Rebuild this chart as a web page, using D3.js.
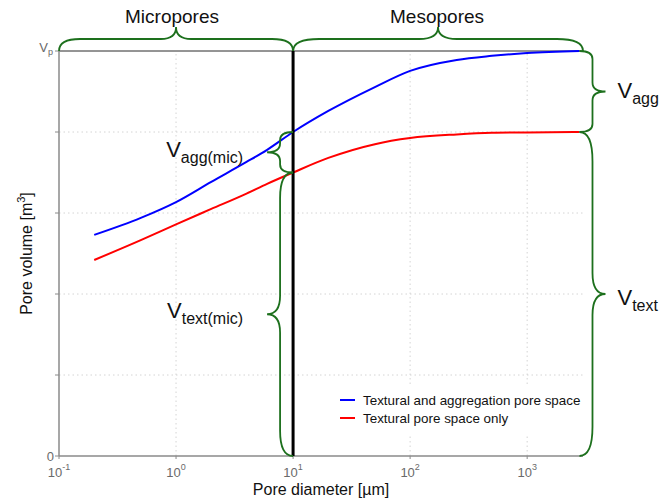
<!DOCTYPE html>
<html>
<head>
<meta charset="utf-8">
<script src="https://cdn.jsdelivr.net/npm/d3@7"></script>
<style>
  body { margin: 0; background: #fff; }
  text { font-family: "Liberation Sans", Arial, sans-serif; }
</style>
</head>
<body>
<svg id="chart" width="670" height="499"></svg>
<script>
// values (volume as a share of Vp)
var diameters = [0.2, 0.5, 1, 2, 4, 6, 10, 20, 50, 100, 250, 500, 1000, 2800];
var totalVolume = [0.546, 0.588, 0.627, 0.677, 0.726, 0.756, 0.80, 0.852, 0.911, 0.951, 0.978, 0.988, 0.995, 1.0];
var texturalVolume = [0.484, 0.533, 0.572, 0.610, 0.648, 0.672, 0.70, 0.736, 0.770, 0.785, 0.794, 0.798, 0.799, 0.80];
var xTicks = [0.1, 1, 10, 100, 1000];
var xTickExp = ["-1", "0", "1", "2", "3"];
var yTicks = [0, 0.2, 0.4, 0.6, 0.8, 1];
var seriesNames = ["Textural and aggregation pore space", "Textural pore space only"];
var seriesColors = ["#0000ff", "#ff0000"];
var poreClasses = ["Micropores", "Mesopores"];
var boundary = 10;
var xMin = 0.1, xMax = 3000;

var green = "#1d701d";
var svg = d3.select("#chart");

var x = d3.scaleLog().domain([xMin, xMax]).range([59, 583]);
var y = d3.scaleLinear().domain([0, 1]).range([456, 51]);

// grid
var grid = svg.append("g").attr("class", "grid");
grid.selectAll(".gx")
  .data(xTicks.filter(function(t) { return t != xMin && t != boundary; }))
  .enter().append("line")
  .attr("x1", function(d) { return x(d); }).attr("x2", function(d) { return x(d); })
  .attr("y1", y(0)).attr("y2", y(1))
  .attr("stroke", "#d4d4d4").attr("stroke-dasharray", "1.5,3");
grid.selectAll(".gy")
  .data(yTicks.filter(function(t) { return t > 0 && t < 1; }))
  .enter().append("line")
  .attr("x1", x(xMin)).attr("x2", x(xMax))
  .attr("y1", function(d) { return y(d); }).attr("y2", function(d) { return y(d); })
  .attr("stroke", "#d4d4d4").attr("stroke-dasharray", "1.5,3");

// top border at Vp
svg.append("line")
  .attr("x1", x(xMin)).attr("x2", x(xMax))
  .attr("y1", y(1)).attr("y2", y(1))
  .attr("stroke", "#2a2a2a").attr("stroke-width", 1);

// axes
var axisColor = "#8a8a8a", labelColor = "#6a6a6a";
svg.append("line")
  .attr("x1", x(xMin)).attr("x2", x(xMin)).attr("y1", y(0)).attr("y2", y(1))
  .attr("stroke", axisColor).attr("stroke-width", 1.5);
svg.append("line")
  .attr("x1", x(xMin)).attr("x2", x(xMax)).attr("y1", y(0)).attr("y2", y(0))
  .attr("stroke", axisColor).attr("stroke-width", 1.5);

svg.selectAll(".ytick")
  .data(yTicks).enter().append("line")
  .attr("x1", x(xMin) - 4).attr("x2", x(xMin))
  .attr("y1", function(d) { return y(d); }).attr("y2", function(d) { return y(d); })
  .attr("stroke", axisColor);
svg.selectAll(".xtick")
  .data(xTicks).enter().append("line")
  .attr("x1", function(d) { return x(d); }).attr("x2", function(d) { return x(d); })
  .attr("y1", y(0)).attr("y2", y(0) + 3)
  .attr("stroke", axisColor);

svg.append("text")
  .attr("x", x(xMin) - 5).attr("y", y(0) + 5)
  .attr("text-anchor", "end").attr("font-size", 13).attr("fill", labelColor)
  .text("0");
var vp = svg.append("text")
  .attr("x", x(xMin) - 6).attr("y", y(1) + 1)
  .attr("text-anchor", "end").attr("font-size", 13).attr("fill", labelColor);
vp.append("tspan").text("V");
vp.append("tspan").attr("font-size", 9).attr("dy", 3).text("p");

svg.selectAll(".xlab")
  .data(xTicks).enter().append("text")
  .attr("x", function(d) { return x(d); }).attr("y", y(0) + 21)
  .attr("text-anchor", "middle").attr("font-size", 13).attr("fill", labelColor)
  .each(function(d, i) {
    var t = d3.select(this);
    t.append("tspan").text("10");
    t.append("tspan").attr("font-size", 9).attr("dy", -7).text(xTickExp[i]);
  });

svg.append("text")
  .attr("x", (x(xMin) + x(xMax)) / 2).attr("y", 495)
  .attr("text-anchor", "middle").attr("font-size", 16).attr("fill", "#111")
  .text("Pore diameter [µm]");

var ylab = svg.append("text")
  .attr("transform", "translate(32," + ((y(0) + y(1)) / 2) + ") rotate(-90)")
  .attr("text-anchor", "middle").attr("font-size", 16).attr("fill", "#111");
ylab.append("tspan").text("Pore volume [m");
ylab.append("tspan").attr("font-size", 11).attr("dy", -7).text("3");
ylab.append("tspan").attr("dy", 7).text("]");

// curves
var line = d3.line()
  .x(function(d) { return x(d[0]); })
  .y(function(d) { return y(d[1]); })
  .curve(d3.curveMonotoneX);
var series = [totalVolume, texturalVolume];
series.forEach(function(vals, i) {
  svg.append("path")
    .datum(diameters.map(function(dm, j) { return [dm, vals[j]]; }))
    .attr("d", line)
    .attr("fill", "none")
    .attr("stroke", seriesColors[i])
    .attr("stroke-width", 2);
});

// boundary micro / meso
svg.append("line")
  .attr("x1", x(boundary)).attr("x2", x(boundary))
  .attr("y1", y(0)).attr("y2", y(1))
  .attr("stroke", "#000").attr("stroke-width", 3);

// braces
function brace(x1, y1, x2, y2, nx, ny, d) {
  var len = Math.hypot(x2 - x1, y2 - y1);
  var ux = (x2 - x1) / len, uy = (y2 - y1) / len;
  var r = Math.max(8, len * 0.09), q = Math.max(9, len * 0.065), h = d / 2;
  function P(s, t) { return (x1 + ux * s + nx * t) + "," + (y1 + uy * s + ny * t); }
  return "M" + P(0, 0) +
    "Q" + P(0, h) + " " + P(r, h) +
    "L" + P(len / 2 - q, h) +
    "Q" + P(len / 2, h) + " " + P(len / 2, d) +
    "Q" + P(len / 2, h) + " " + P(len / 2 + q, h) +
    "L" + P(len - r, h) +
    "Q" + P(len, h) + " " + P(len, 0);
}

var xEnd = x(diameters[diameters.length - 1]);
var aggTop = y(totalVolume[totalVolume.length - 1]);
var textTop = y(texturalVolume[texturalVolume.length - 1]);
var bIdx = diameters.indexOf(boundary);
var aggMic = y(totalVolume[bIdx]);
var textMic = y(texturalVolume[bIdx]);

var braces = [
  [x(xMin), y(1), x(boundary), y(1), 0, -1, 24],
  [x(boundary), y(1), x(xMax), y(1), 0, -1, 24],
  [xEnd, aggTop, xEnd, textTop, 1, 0, 26],
  [xEnd, textTop, xEnd, y(0), 1, 0, 26],
  [x(boundary), aggMic, x(boundary), textMic, -1, 0, 26],
  [x(boundary), textMic, x(boundary), y(0), -1, 0, 26]
];
svg.selectAll(".brace")
  .data(braces).enter().append("path")
  .attr("d", function(b) { return brace.apply(null, b); })
  .attr("fill", "none").attr("stroke", green).attr("stroke-width", 1.8);

// class labels
svg.selectAll(".cls")
  .data(poreClasses).enter().append("text")
  .attr("x", function(d, i) { return i == 0 ? (x(xMin) + x(boundary)) / 2 - 4 : (x(boundary) + x(xMax)) / 2 - 1; })
  .attr("y", 23)
  .attr("text-anchor", "middle").attr("font-size", 19).attr("fill", "#111")
  .text(function(d) { return d; });

// V labels
function vLabel(xp, yp, sub, anchor) {
  var t = svg.append("text").attr("x", xp).attr("y", yp)
    .attr("text-anchor", anchor).attr("font-size", 22).attr("fill", "#111");
  t.append("tspan").text("V");
  t.append("tspan").attr("font-size", 16).attr("dy", 6).text(sub);
}
vLabel(xEnd + 38, (aggTop + textTop) / 2 + 6, "agg", "start");
vLabel(xEnd + 38, (textTop + y(0)) / 2 + 11, "text", "start");
vLabel(x(boundary) - 50, (aggMic + textMic) / 2 + 5, "agg(mic)", "end");
vLabel(x(boundary) - 50, (textMic + y(0)) / 2 + 4, "text(mic)", "end");

// legend
var lg = svg.append("g").attr("transform", "translate(340,400)");
lg.append("rect").attr("x", -6).attr("y", -16).attr("width", 252).attr("height", 50).attr("fill", "#fff");
seriesNames.forEach(function(n, i) {
  lg.append("line").attr("x1", 0).attr("x2", 15).attr("y1", i * 18).attr("y2", i * 18)
    .attr("stroke", seriesColors[i]).attr("stroke-width", 2);
  lg.append("text").attr("x", 23).attr("y", i * 18 + 4.5)
    .attr("font-size", 13.4).attr("fill", "#111").text(n);
});
</script>
</body>
</html>
